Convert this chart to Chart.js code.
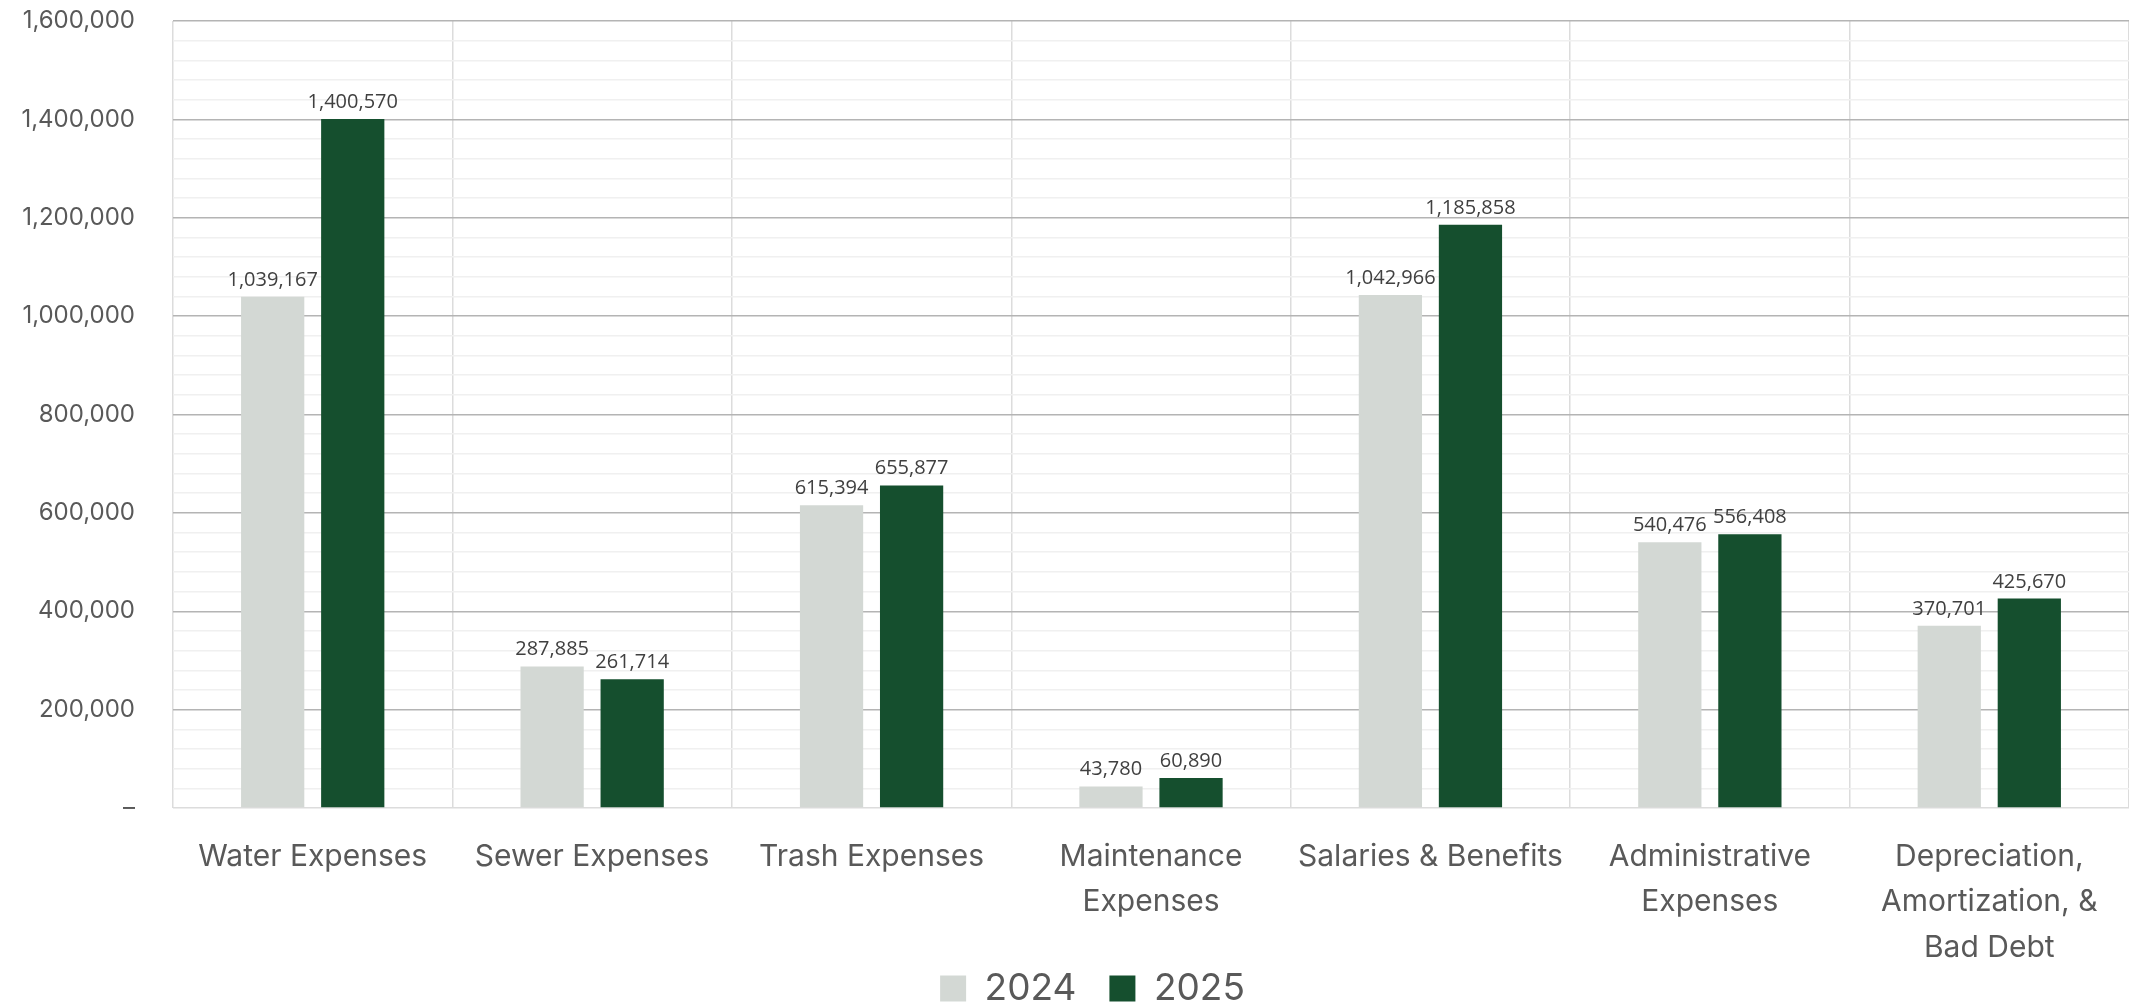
<!DOCTYPE html>
<html>
<head>
<meta charset="utf-8">
<script src="https://cdn.jsdelivr.net/npm/chart.js@4.4.1/dist/chart.umd.min.js"></script>
<style>
    html, body { margin: 0; padding: 0; background: #ffffff; overflow: hidden; }
    #clip { width: 2129px; height: 1003px; overflow: hidden; }
    #wrap { width: 2129px; height: 1017px; position: relative; }
</style>
</head>
<body>
<div id="clip"><div id="wrap"><canvas id="expenseChart"></canvas></div></div>
<script>
// Expense categories and yearly values
const categories = [
    'Water Expenses',
    'Sewer Expenses',
    'Trash Expenses',
    ['Maintenance', 'Expenses'],
    'Salaries & Benefits',
    ['Administrative', 'Expenses'],
    ['Depreciation,', 'Amortization, &', 'Bad Debt']
];
const values2024 = [1039167, 287885, 615394, 43780, 1042966, 540476, 370701];
const values2025 = [1400570, 261714, 655877, 60890, 1185858, 556408, 425670];
const seriesLabels = ['2024', '2025'];
const yMin = 0;
const yMax = 1600000;
const yMinorStep = 40000;
const yMajorStep = 200000;

const colors = ['#d3d8d4', '#154f2e'];
const textColor = '#595959';

// draws the value above every bar
const barValueLabels = {
    id: 'barValueLabels',
    afterDatasetsDraw(chart) {
        const ctx = chart.ctx;
        ctx.save();
        ctx.font = '20px "Open Sans"';
        ctx.fillStyle = '#404040';
        ctx.textAlign = 'center';
        ctx.textBaseline = 'alphabetic';
        chart.data.datasets.forEach((ds, i) => {
            chart.getDatasetMeta(i).data.forEach((bar, j) => {
                ctx.fillText(ds.data[j].toLocaleString('en-US'), bar.x, bar.y - 11);
            });
        });
        ctx.restore();
    }
};

// the 3-line category label runs past the x scale box; let it draw down to the canvas edge.
// also nudge the legend a bit to the right, like the original
const layoutTweaks = {
    id: 'layoutTweaks',
    afterLayout(chart) {
        chart.scales.x.bottom = chart.height;
        chart.legend.left += 28;
        chart.legend.right += 28;
    }
};

const ctx = document.getElementById('expenseChart');
new Chart(ctx, {
    type: 'bar',
    data: {
        labels: categories,
        datasets: seriesLabels.map((label, i) => ({
            label: label,
            data: i === 0 ? values2024 : values2025,
            backgroundColor: colors[i],
            borderWidth: 0,
            categoryPercentage: 0.573,
            barPercentage: 0.79
        }))
    },
    options: {
        responsive: true,
        maintainAspectRatio: false,
        animation: false,
        layout: { padding: { top: 21, right: 0, left: 0, bottom: 0 } },
        scales: {
            x: {
                grid: {
                    offset: true,
                    color: '#dcdcdc',
                    lineWidth: 1.5,
                    drawTicks: false
                },
                border: { display: false },
                ticks: {
                    color: textColor,
                    font: { family: 'Inter', size: 30, lineHeight: 1.52 },
                    padding: 26,
                    maxRotation: 0,
                    autoSkip: false
                },
                afterFit: scale => { scale.height = 129; }
            },
            y: {
                min: yMin,
                max: yMax,
                border: { display: false },
                grid: {
                    drawTicks: false,
                    lineWidth: 1.5,
                    color: c => {
                        const v = c.tick.value;
                        if (v === 0) return '#dcdcdc';
                        if (v % yMajorStep === 0) return '#b4b4b4';
                        return '#f0f0f0';
                    }
                },
                ticks: {
                    stepSize: yMinorStep,
                    autoSkip: false,
                    color: textColor,
                    font: { family: 'Inter', size: 24 },
                    padding: 38,
                    callback: value => {
                        if (value === 0) return '–';
                        if (value % yMajorStep === 0) return value.toLocaleString('en-US');
                        return '';
                    }
                },
                afterFit: scale => {
                    scale.width = 173;
                    scale.paddingTop = 0;
                    scale.paddingBottom = 0;
                }
            }
        },
        plugins: {
            legend: {
                position: 'bottom',
                labels: {
                    color: textColor,
                    font: { family: 'Inter', size: 37 },
                    boxWidth: 26,
                    boxHeight: 26,
                    padding: 33
                }
            },
            tooltip: { enabled: false }
        }
    },
    plugins: [barValueLabels, layoutTweaks]
});
</script>
</body>
</html>
